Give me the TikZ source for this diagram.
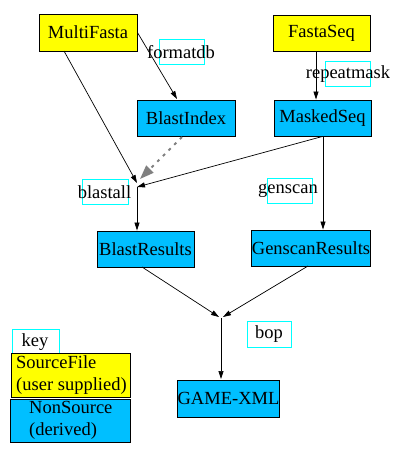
\documentclass[tikz,border=0pt]{standalone}
\usepackage{fontspec}
\setmainfont{Liberation Serif}
\usetikzlibrary{arrows.meta,calc}
\definecolor{srcyellow}{RGB}{255,255,0}
\definecolor{derblue}{RGB}{0,191,255}
\definecolor{lblcyan}{RGB}{0,255,255}
\tikzset{
  every node/.style={font=\fontsize{18.5}{22}\selectfont},
  nodebox/.style={draw=black, line width=0.9pt, minimum width=97pt, minimum height=36pt, inner sep=0pt},
  srcnode/.style={nodebox, fill=srcyellow},
  dernode/.style={nodebox, fill=derblue},
  lbltext/.style={inner sep=0pt},
  lblbox/.style={draw=lblcyan, line width=1pt, minimum width=45pt, minimum height=25pt, inner sep=0pt},
  edge/.style={draw=black, line width=0.7pt, -{Triangle[length=8pt,width=5pt]}},
  graydot/.style={draw=gray, line width=2pt, dash pattern=on 3pt off 5pt, -{Triangle[length=14pt,width=10pt]}},
}
\begin{document}
\begin{tikzpicture}[x=1pt,y=-1pt]
\useasboundingbox (0,0) rectangle (401,450);
% nodes
\node[srcnode, minimum width=98pt, minimum height=37pt] (mf) at (88,32.5) {MultiFasta};
\node[srcnode] (fs) at (321.5,33) {FastaSeq};
\node[dernode, minimum width=98pt] (bi) at (186,118) {BlastIndex};
\node[dernode] (ms) at (322.5,118) {MaskedSeq};
\node[dernode] (br) at (145.5,249) {BlastResults};
\node[dernode, minimum width=116pt] (gr) at (311,248) {GenscanResults};
\node[dernode, minimum height=37pt] (gx) at (228.5,398.5) {GAME-XML};
% labels
\node[lblbox] (fmtbox) at (181.5,51.5) {};
\node[lbltext] (fmt) at (181,52) {formatdb};
\node[lblbox] (rmbox) at (347.5,73.5) {};
\node[lbltext] (rm) at (348,74) {repeatmask};
\node[lblbox, minimum width=46pt] (babox) at (105,191.5) {};
\node[lbltext] (bal) at (104.5,192) {blastall};
\node[lblbox] (gsbox) at (289.5,190.5) {};
\node[lbltext] (gs) at (288,191) {genscan};
\node[lblbox, minimum width=44pt, minimum height=26pt] (bopbox) at (269,334) {};
\node[lbltext] (bop) at (269,334) {bop};
% junction points
\coordinate (ba) at (137,185);
\coordinate (bp) at (221,318);
\coordinate (bitop) at (177,99);
\coordinate (gxtop) at (221,379);
% edges
\draw[edge] (mf.east) -- (bitop);
\draw[edge] (fs.south -| 316,0) -- (ms.north -| 316,0);
\draw[edge] (64,51) -- ($(ba)+(0,-2)$);
\draw[graydot] (182,137) -- ($(ba)+(3,-6)$);
\draw[edge] (ms.south) -- ($(ba)+(0,2)$);
\draw[edge] (ms.south -| 323,0) -- (gr.north -| 323,0);
\draw[edge] ($(ba)+(0,2)$) -- (br.north -| ba);
\draw[edge] (142,267) -- ($(bp)+(-2,-1)$);
\draw[edge] (308,266) -- ($(bp)+(2,-1)$);
\draw[edge] (bp) -- (gxtop);
% legend
\node[lblbox, minimum width=47pt] (keybox) at (35.5,341.5) {};
\node[lbltext] (key) at (35,342) {key};
\node[draw=black, line width=0.9pt, fill=srcyellow, minimum width=119pt, minimum height=44pt, inner sep=0pt] (src) at (70.5,375) {};
\node[lbltext, anchor=west, align=left] (srct) at (16,375) {SourceFile\\(user supplied)};
\node[draw=black, line width=0.9pt, fill=derblue, minimum width=120pt, minimum height=43pt, inner sep=0pt] (der) at (70,420.5) {};
\node[lbltext, anchor=west, align=left] (dert) at (29,420.5) {NonSource\\(derived)};
\end{tikzpicture}
\end{document}
